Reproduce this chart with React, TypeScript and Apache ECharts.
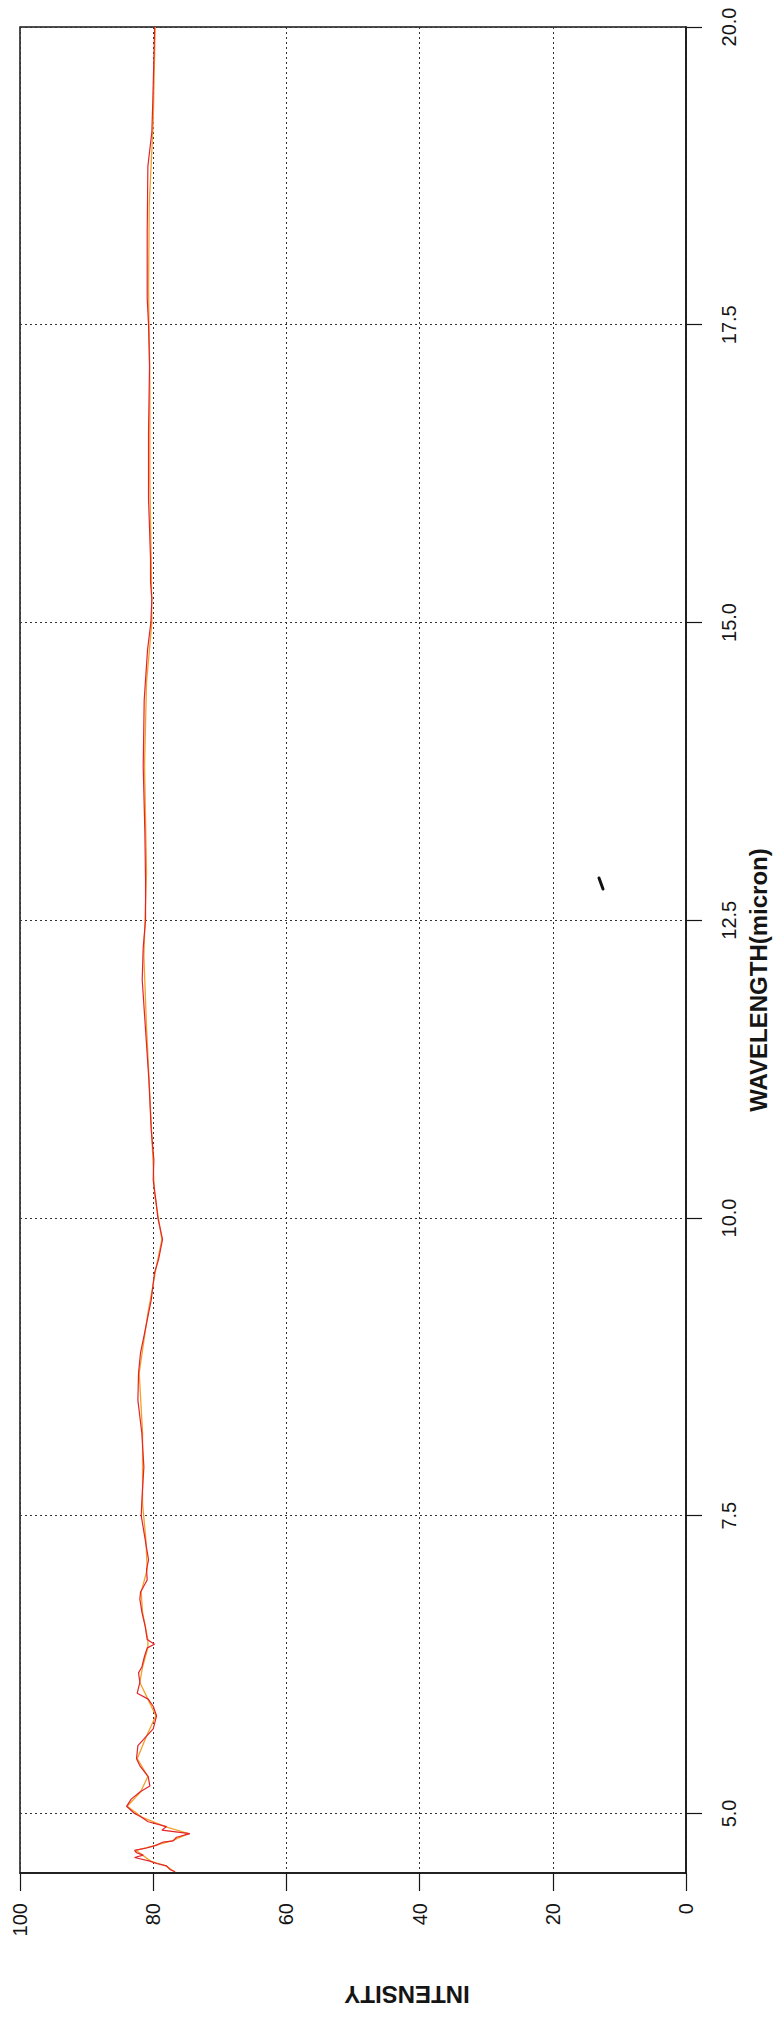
import React, { useEffect, useRef } from "react";
import * as echarts from "echarts";

// Axis ticks
const wavelengthTicks = [5, 7.5, 10, 12.5, 15, 17.5, 20];
const intensityTicks = [0, 20, 40, 60, 80, 100];

// Red trace: wavelength (micron) and intensity
const redWavelength = [
  4.51, 4.53, 4.56, 4.58, 4.6, 4.63, 4.65, 4.67, 4.69, 4.71, 4.73, 4.76, 4.77, 4.8, 4.83,
  4.86, 4.89, 4.93, 4.97, 5.0, 5.06, 5.12, 5.18, 5.23, 5.31, 5.4, 5.46, 5.57, 5.65, 5.71,
  5.82, 5.9, 5.96, 6.01, 6.1, 6.18, 6.23, 6.32, 6.39, 6.42, 6.46, 6.57, 6.69, 6.8, 6.86,
  6.96, 7.05, 7.13, 7.3, 7.5, 7.63, 7.91, 8.19, 8.47, 8.7, 8.87, 9.03, 9.31, 9.54, 9.65,
  9.82, 10.0, 10.15, 10.32, 10.49, 10.74, 11.16, 11.58, 12.0, 12.27, 12.5, 12.84, 13.24,
  13.79, 14.35, 14.77, 15.0, 15.2, 15.34, 15.54, 16.04, 16.6, 17.16, 17.5, 17.72, 18.28,
  18.83, 19.12, 19.4, 19.96, 20.0,
];
const redIntensity = [
  76.7, 77.5, 78.0, 79.5, 80.5, 82.8, 81.5, 82.5, 82.8, 81.0, 79.7, 78.5, 77.0, 76.5, 74.5,
  78.7, 78.0, 80.75, 81.8, 82.8, 84.0, 83.3, 82.0, 80.5, 80.75, 82.0, 82.5, 82.3, 81.0, 80.0,
  79.5, 80.0, 80.75, 82.4, 82.0, 82.2, 81.7, 81.3, 80.9, 79.8, 80.9, 81.2, 81.7, 82.0, 81.9,
  80.9, 81.0, 80.7, 81.2, 81.8, 81.7, 81.4, 81.7, 82.3, 82.2, 81.9, 81.3, 80.3, 79.8, 79.2,
  78.6, 79.3, 79.6, 80.0, 79.9, 80.3, 80.65, 81.15, 81.65, 81.5, 81.15, 81.15, 81.25,
  81.5, 81.35, 80.85, 80.35, 80.2, 80.4, 80.4, 80.7, 80.7, 80.55, 80.7, 80.9, 80.9,
  80.8, 80.2, 80.05, 79.8, 79.8,
];

// Orange trace (runs almost on top of the red one)
const orangeWavelength = [
  4.51, 4.56, 4.6, 4.65, 4.69, 4.73, 4.77, 4.83, 4.89, 4.97, 5.06, 5.18, 5.31, 5.46, 5.65,
  5.82, 5.96, 6.1, 6.23, 6.39, 6.46, 6.69, 6.86, 7.05, 7.3, 7.6, 8.2, 8.7, 9.2, 9.6, 9.82,
  10.2, 10.8, 11.6, 12.2, 12.9, 13.8, 14.5, 15.0, 15.5, 16.2, 17.0, 17.8, 18.5, 19.2, 20.0,
];
const orangeIntensity = [
  76.8, 78.1, 80.4, 81.6, 82.6, 79.8, 77.2, 74.7, 78.2, 81.7, 83.9, 81.9, 80.8, 82.4, 81.0,
  79.6, 80.8, 82.0, 81.6, 80.8, 80.8, 81.6, 81.8, 80.9, 81.1, 81.6, 81.6, 82.1, 80.8, 79.5,
  78.7, 79.8, 80.3, 81.0, 81.4, 81.0, 81.3, 81.0, 80.2, 80.3, 80.5, 80.5, 80.7, 80.6, 80.0,
  79.7,
];

const FONT = '"Liberation Sans", Arial, Helvetica, sans-serif';
const INK = "#151515";

export default function App() {
  const ref = useRef<HTMLDivElement>(null);

  useEffect(() => {
    const chart = echarts.init(ref.current!, null, { renderer: "svg" });
    const redData = redWavelength.map((w, i) => [redIntensity[i], w]);
    const orangeData = orangeWavelength.map((w, i) => [orangeIntensity[i], w]);

    chart.setOption({
      animation: false,
      backgroundColor: "#ffffff",
      grid: {
        left: 20,
        top: 27,
        right: 87,
        bottom: 152,
        show: true,
        borderColor: INK,
        borderWidth: 1.5,
        backgroundColor: "transparent",
      },
      xAxis: {
        type: "value",
        min: 0,
        max: 100,
        interval: 20,
        inverse: true,
        position: "bottom",
        axisLine: { show: true, lineStyle: { color: INK, width: 1.5 } },
        axisTick: { show: true, inside: false, length: 18, lineStyle: { color: INK, width: 1.2 } },
        axisLabel: {
          rotate: 90,
          margin: 30,
          fontSize: 20,
          color: INK,
          fontFamily: FONT,
          customValues: intensityTicks,
        },
        splitLine: { show: true, lineStyle: { type: [2, 3], color: "#333", width: 1 } },
      },
      yAxis: {
        type: "value",
        min: 4.5,
        max: 20,
        position: "right",
        axisLine: { show: true, lineStyle: { color: INK, width: 1.5 } },
        axisTick: {
          show: true,
          inside: false,
          length: 16,
          customValues: wavelengthTicks,
          lineStyle: { color: INK, width: 1.2 },
        },
        axisLabel: {
          rotate: 90,
          margin: 33,
          fontSize: 20,
          color: INK,
          fontFamily: FONT,
          customValues: wavelengthTicks,
          formatter: (v: number) => v.toFixed(1),
        },
        splitLine: { show: true, lineStyle: { type: [2, 3], color: "#333", width: 1 } },
      },
      series: [
        {
          type: "line",
          data: orangeData,
          showSymbol: false,
          lineStyle: { color: "#f2a22a", width: 1.3 },
          z: 2,
        },
        {
          type: "line",
          data: redData,
          showSymbol: false,
          lineStyle: { color: "#e4232b", width: 1.2 },
          z: 3,
        },
      ],
      graphic: [
        {
          type: "text",
          x: 407,
          y: 1994,
          rotation: Math.PI,
          style: {
            text: "INTENSITY",
            font: `bold 24px ${FONT}`,
            fill: INK,
            textAlign: "center",
            textVerticalAlign: "middle",
          },
        },
        {
          type: "text",
          x: 758,
          y: 980,
          rotation: Math.PI / 2,
          style: {
            text: "WAVELENGTH(micron)",
            font: `bold 24px ${FONT}`,
            fill: INK,
            textAlign: "center",
            textVerticalAlign: "middle",
          },
        },
        {
          type: "line",
          shape: { x1: 599, y1: 878, x2: 603, y2: 889 },
          style: { stroke: "#111", lineWidth: 3, lineCap: "round" },
        },
      ],
    });

    return () => chart.dispose();
  }, []);

  return (
    <div
      ref={ref}
      style={{ position: "absolute", left: 0, top: 0, width: 773, height: 2025 }}
    />
  );
}
